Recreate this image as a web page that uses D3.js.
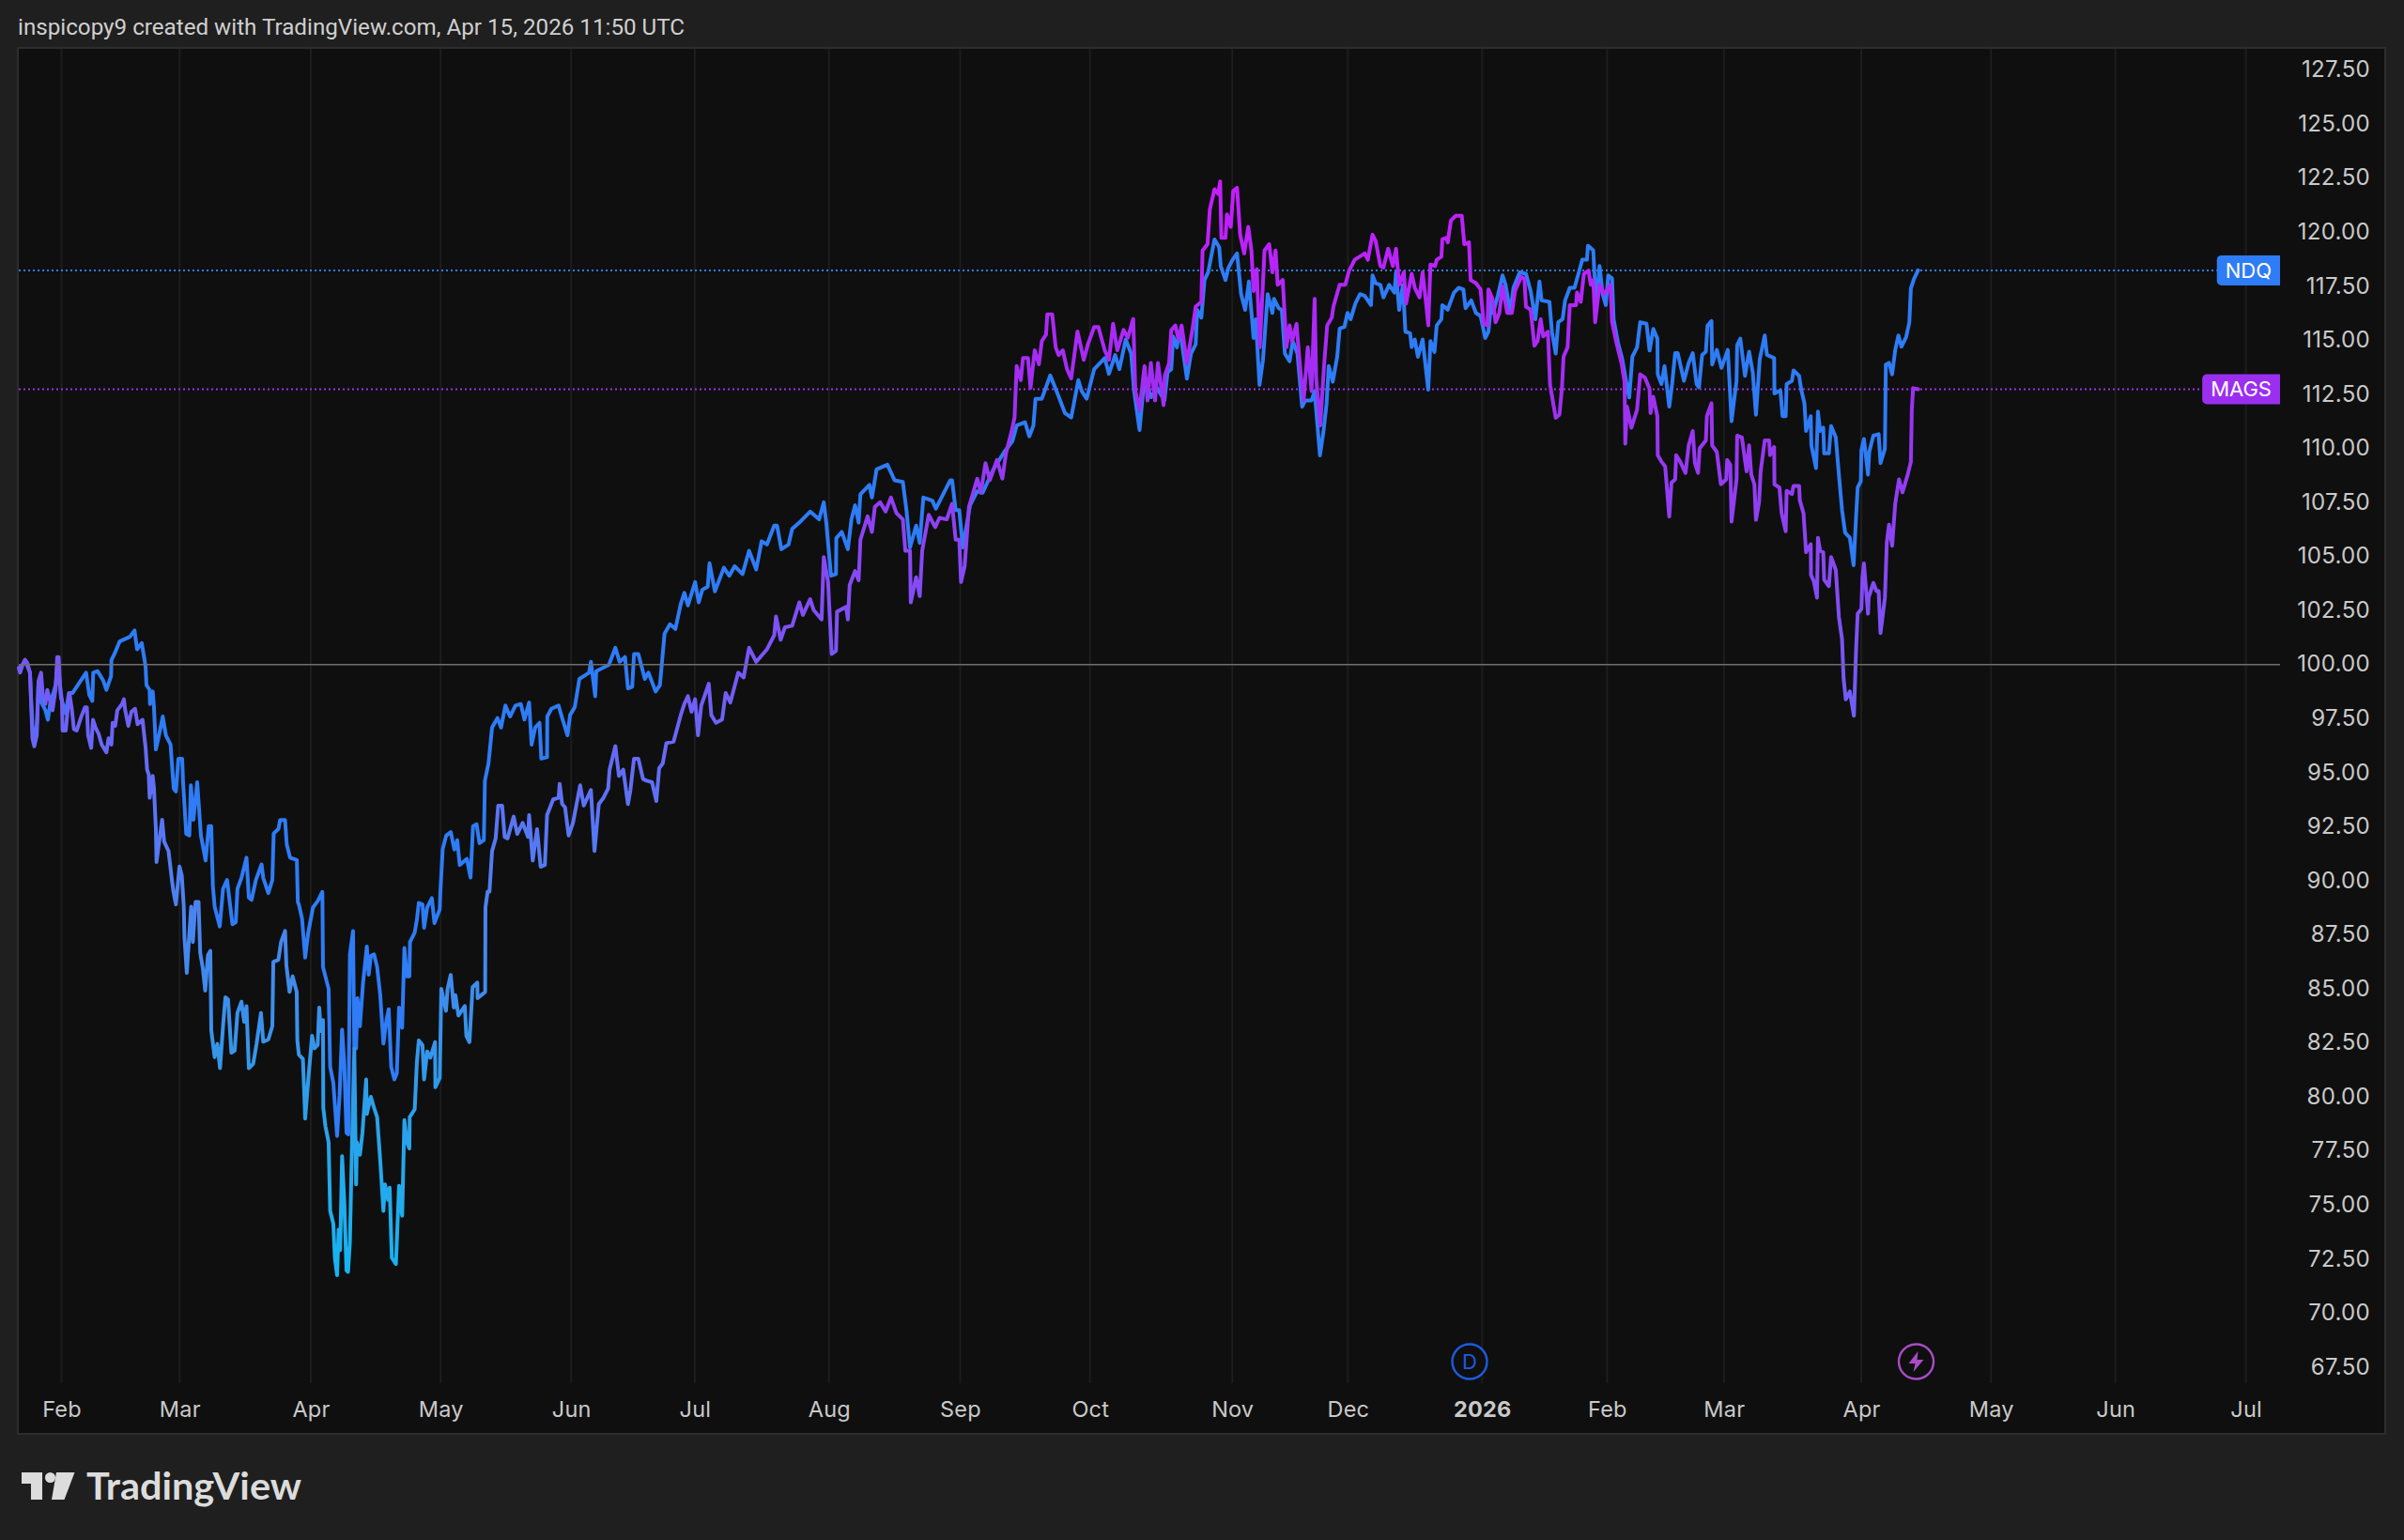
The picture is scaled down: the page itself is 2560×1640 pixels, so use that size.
<!DOCTYPE html>
<html>
<head>
<meta charset="utf-8">
<title>NDQ vs MAGS</title>
<script src="https://cdn.jsdelivr.net/npm/d3@7/dist/d3.min.js"></script>
<style>
  html, body { margin: 0; padding: 0; background: #1f1f1f; }
  svg { display: block; }
  .axis text { font-family: Inter, "Noto Sans", sans-serif; font-size: 23.5px; letter-spacing: 0.2px; fill: #c9c9c9; }
  .axis.price text { font-size: 24px; letter-spacing: 0.3px; }
  .axis path, .axis line { display: none; }
</style>
</head>
<body>
<svg id="chart" width="2560" height="1640"></svg>
<script>
// Axis contents. Sessions are trading days counted from 3 Feb 2025, so weekends take no room.
const monthTickSessions = [0, 19.1, 40.3, 61.3, 82.4, 102.4, 124.1, 145.3, 166.3, 189.3, 208, 229.7, 249.9, 268.8, 291, 312, 332.1, 353.2];
const monthTickLabels = ["Feb", "Mar", "Apr", "May", "Jun", "Jul", "Aug", "Sep", "Oct", "Nov", "Dec", "2026", "Feb", "Mar", "Apr", "May", "Jun", "Jul"];
const priceTicks = d3.range(67.5, 127.6, 2.5);
const baselineValue = 100;

// NDQ, rebased to 100
const ndqSessions = [-6.9,-6.3,-5.9,-5.1,-4.9,-4.63,-4.38,-3.97,-3.72,-3.37,-2.61,-2.2,-1.85,-0.94,-0.58,-0.08,0.68,1.19,1.8,2.96,3.97,4.48,4.98,5.13,5.84,6.75,7.26,8.02,8.07,8.78,9.39,11.06,11.81,12.22,12.98,13.59,13.74,14.25,14.3,14.75,14.95,15.26,15.76,16.37,16.88,17.63,18.14,18.5,18.9,19.51,19.66,20.17,20.67,20.92,21.33,21.94,22.19,22.54,23.3,23.81,24.21,24.47,
24.76,25.58,26.12,26.77,27.64,28.18,28.45,29.1,29.91,30.29,30.73,31.43,32.35,32.62,33.44,34.09,34.31,35.07,35.34,36.15,36.42,36.96,38.05,38.21,38.38,38.89,39.4,39.9,40.66,41.42,42.18,42.28,43.19,43.44,43.95,44.56,44.96,45.37,45.72,46.08,46.38,46.63,47.14,47.34,47.64,47.85,48.25,48.76,49.37,49.67,50.02,50.53,51.03,51.54,52.05,52.55,52.91,53.31,53.82,54.22,54.58,55.08,55.44,55.84,56.25,56.35,57.11,57.46,57.77,58.37,58.63,59.13,59.89,60.3,61.16,61.26,61.64,62.2,
62.94,63.52,63.99,64.39,65.55,66.14,66.54,67.12,67.59,68.29,68.46,69.04,69.62,70.49,71.07,71.77,72.53,73.4,74.27,74.85,75.61,76.01,76.59,77.29,77.58,78.51,78.55,79.21,80.37,80.95,81.82,82.23,82.99,83.74,85.31,85.6,86.3,86.47,88.51,89.55,90.25,91.12,91.59,92.28,92.57,93.27,94.32,94.9,96.06,96.76,97.51,98.38,99.26,100.13,100.71,101.29,102.45,103.03,103.61,104.49,104.78,105.65,107.1,107.97,108.84,110.12,111.17,112.33,113.2,114.07,115.24,115.7,116.4,117.56,118.14,119.59,121.05,122.5,123.25,123.66,124.42,125.23,125.28,126.16,127.15,127.73,128.31,128.89,129.18,130.63,131.04,131.79,133.54,134.7,136.04,136.62,137.2,138.19,138.77,139.35,140.8,141.38,143.71,144,144.58,145.16,145.74,146.9,148.07,148.94,150.68,152.42,
153.76,154.44,155.8,156.48,157.15,157.49,158.51,159.87,160.88,162.24,163.26,164.41,164.95,165.76,166.98,168.68,169.36,170.37,171.05,172.07,172.95,173.43,174.31,175.12,176.14,177.15,178.33,178.84,179.44,179.75,180.35,180.61,181.11,181.97,182.63,183.39,183.64,184.3,184.81,185.41,186.43,187.19,187.44,188.2,188.7,189.36,190.07,190.73,191.39,191.99,192.75,193.11,193.71,194.27,195.03,195.79,196.04,196.8,197.31,197.81,198.57,199.08,199.84,200.6,201.1,202.12,202.62,203.48,204.04,204.55,204.9,205.56,206.27,206.67,207.43,207.94,208.44,209.2,209.96,210.72,211.73,211.98,212.49,213.25,213.75,214.67,215.53,215.78,216.29,216.9,217.3,218.06,218.31,218.82,219.32,220.08,220.99,221.35,222,222.36,223.12,223.27,223.88,
224.14,225.15,225.91,226.67,227.03,227.94,228.7,229.45,230.21,230.72,231.23,231.48,232.24,233,233.5,234.26,234.77,235.78,236.79,237.55,238.31,238.97,239.32,240.59,240.99,241.6,242.01,242.71,243.12,243.88,244.64,245.14,245.9,246.66,246.81,247.67,247.93,248.28,248.69,249.19,249.7,250.1,250.71,250.96,251.72,252.33,252.99,253.49,254,254.76,255.26,256.28,256.78,
257.38,258.04,258.1,258.7,259.2,259.96,260.42,260.92,261.33,262.34,263.1,263.76,264.37,264.77,265.28,265.88,266.14,266.79,266.9,267.65,268.41,269.43,270.03,270.84,270.94,271.45,272.21,272.87,273.47,273.98,274.59,275.4,275.75,276.92,276.97,277.93,278.28,278.79,278.94,279.8,280.05,280.96,281.32,281.82,282.08,282.84,282.94,283.7,284,284.35,284.86,285.01,285.77,286.13,286.89,287.39,287.9,288.4,289.16,289.77,290.17,290.43,290.94,291.03,291.44,292.1,292.3,292.96,293.82,294.12,294.83,294.98,295.49,296,296.5,297.01,297.51,298.27,298.78,299.03,299.54,300.2];
const ndqValues = [99.84,99.99,100.2,99.63,98.32,96.73,96.37,97.31,99.19,98.32,97.89,97.45,98.18,99.05,100.2,98.47,97.74,98.69,98.69,99.19,99.63,98.61,98.32,99.63,99.7,99.26,98.83,99.48,100.2,100.64,101.07,101.29,101.58,100.71,101,99.92,99.05,98.83,98.18,98.76,98.03,96.08,96.73,97.6,96.73,96.3,94.27,94.13,95.65,95.65,94.56,92.17,92.1,94.42,92.82,94.56,93.55,92.1,90.94,92.53,92.53,89.79,
88.81,87.89,89.63,90.04,87.99,88.09,89.63,90.14,91.07,89.22,89.12,90.04,90.76,90.14,89.43,90.04,92.19,92.4,92.81,92.81,91.68,91.07,90.96,89.02,88.91,88.26,86.45,87.61,88.77,89.06,89.49,86.02,85,81.39,80.66,78.2,80.08,83.12,81.53,78.35,78.27,86.6,87.68,82.25,82.25,84.57,83.27,85.29,86.96,85.66,86.52,86.6,86.02,84.71,82.47,83.56,84.06,81.39,80.81,81.1,84.14,83.2,86.89,85.58,85.58,87.17,87.61,88.19,88.98,88.91,87.83,88.77,89.2,88.04,88.69,89.49,91.48,92.09,
92.25,91.45,91.88,90.73,91.02,90.15,92.53,92.61,91.74,91.88,94.63,95.43,97.09,97.53,97.09,98.11,97.6,98.11,98.18,97.46,98.25,96.3,97.09,97.31,95.65,95.72,97.6,97.96,98.11,97.53,96.73,97.67,98.03,99.34,99.63,100.13,98.54,99.7,99.99,100.78,100.13,100.35,98.9,98.98,100.49,100.49,99.34,99.63,98.76,99.05,101.44,101.87,101.65,102.81,103.32,102.74,103.82,102.88,103.46,103.61,104.69,103.39,104.48,104.11,104.55,104.19,105.27,104.4,105.71,105.56,106.43,106.43,105.34,105.56,106.28,106.65,107.08,106.72,107.51,106.57,104.11,104.19,105.85,106.14,105.34,106.72,107.37,106.57,107.88,108.31,107.73,109.03,109.25,108.53,108.45,107.15,105.42,106.43,105.63,107.73,107.59,107.22,108.53,108.53,107.15,107.15,105.42,107.37,108.02,107.95,109.03,109.83,
110.34,111.06,111.21,110.56,111.06,112.3,112.3,113.38,112.66,111.64,111.43,113.16,112.66,112.3,113.67,114.18,113.45,114.32,113.67,115.04,114.39,112.66,110.85,113.38,112.37,112.8,112.22,113.52,113.66,115.18,114.68,115.18,114.97,113.23,114.39,114.82,116.41,116.05,117.79,118.15,119.67,119.31,118.44,117.79,118.37,118.73,119.02,117.14,116.41,117.72,115.11,115.98,112.94,114.1,117.14,116.27,116.92,116.49,116.41,114.39,114.03,114.97,114.39,111.93,112.22,112.22,112.65,109.68,110.77,112.07,113.81,113.09,114.24,115.55,115.62,116.27,115.98,116.7,117.14,117.06,116.63,118.01,117.64,117.57,116.99,117.57,117.21,118.15,116.41,117.57,115.4,115.33,114.68,115.04,114.24,115.04,112.72,114.97,114.46,115.69,115.98,116.63,116.49,
116.42,117.21,117.43,117.36,116.49,116.85,116.27,116.13,115.11,115.4,116.92,116.27,117.07,118.01,117.57,116.27,117.43,118.15,118.08,117.28,115.98,117.72,116.85,116.78,115.4,114.39,115.84,115.98,116.85,117.43,117.43,117.94,118.73,118.73,119.38,119.17,117.72,117,118.44,117.14,116.63,118.01,117.86,115.98,114.82,114.17,113.09,112.36,114.25,114.68,115.84,115.77,114.53,
115.53,115.08,113.43,112.98,113.81,111.94,112.98,114.41,114.41,113.13,113.96,114.41,112.98,112.83,114.33,114.48,115.68,115.9,113.88,114.56,113.73,114.56,111.26,113.13,114.78,115.08,113.36,114.48,113.51,111.56,114.11,115.23,114.33,114.18,112.54,112.69,111.49,111.49,112.98,113.13,113.61,113.36,112.69,112.09,110.81,111.49,110.14,109.09,111.71,110.81,110.96,109.77,109.77,111.04,110.51,108.79,107.15,106.1,105.87,104.6,106.85,108.19,108.49,109.92,110.44,108.79,109.84,110.59,110.66,109.32,109.99,113.88,113.96,113.43,114.56,115.23,114.71,115.16,115.83,117.4,117.85,118.24];

// MAGS, rebased to 100
const magsSessions = [-6.9,-6.7,-6.3,-5.9,-5.5,-5.1,-4.9,-4.7,-4.4,-4,-3.7,-3.3,-3,-2.6,-2.3,-1.85,-1.45,-0.95,-0.7,-0.45,-0.25,0.07,0.17,0.68,1.09,1.29,1.69,2,2.45,3.2,3.8,4.1,4.3,4.8,5.1,5.5,6,6.5,7.26,7.6,8.07,8.27,8.68,9.03,9.79,10.09,10.3,10.8,11.3,11.9,12.3,13.1,13.6,13.84,14.1,14.25,14.75,14.95,15.26,15.36,15.76,16.27,16.6,17.3,17.9,18.1,
18.5,18.8,19.07,19.45,19.77,19.88,20.26,20.53,20.97,21.24,21.67,22.16,22.43,22.86,23.24,23.68,24.06,24.22,24.76,25.2,25.63,26.12,26.5,26.93,27.47,28,28.45,29.1,29.53,29.91,30.29,31,31.54,32.25,32.62,33.44,34.09,34.25,35.07,35.5,36.15,
36.36,36.87,37.37,38.03,38.13,38.38,39.04,39.4,39.9,40.51,40.91,41.42,41.67,41.93,42.28,42.33,42.68,43.19,43.44,43.95,44.2,44.56,44.81,45.06,45.37,45.72,46.08,46.33,46.63,46.99,47.34,47.64,47.75,48.25,48.66,49.26,49.37,50.02,50.53,51.03,51.54,52.05,52.3,52.81,53.06,53.41,54.07,54.58,55.08,55.44,55.84,56.25,56.3,57.11,57.46,57.77,58.37,58.63,59.13,59.64,60.4,60.45,61.16,61.41,62.17,62.42,62.93,63.43,63.69,64.19,65.21,65.46,65.96,66.47,67.23,67.28,68.5,68.55,68.9,69.2,
69.62,70.2,70.61,71.25,71.66,72.12,73.11,73.69,74.56,75.43,75.61,76.19,76.89,77.47,78.16,78.51,79.5,80.37,80.55,80.95,81.42,82,82.7,83.86,84.44,85.6,86.18,86.88,87.63,88.39,88.62,89.55,90.13,90.83,91.59,91.99,92.57,93.27,94.03,94.61,95.48,96.18,96.64,97.22,97.8,98.97,100.13,100.71,101.29,101.87,102.45,102.92,103.44,104.66,105.07,105.82,106.81,107.39,108.15,109.42,110.3,111.17,112.33,114.07,115.24,115.53,116.28,116.98,118.14,119.3,119.88,121.05,121.63,122.9,123.25,123.95,124.53,125.23,125.4,126.86,127.15,127.44,128.31,128.89,129.18,130.34,131.04,131.51,132.38,133.25,134.12,135,136.04,136.44,137.2,137.32,138.19,138.77,139.17,140.22,141.27,141.96,143.13,144,144.58,145.16,145.45,146.03,146.73,148.07,148.65,149.4,150.1,151.26,152.13,152.71,153.6,
154.1,154.44,155.12,155.46,156.27,156.68,157.36,158.04,158.51,159.19,159.39,160.2,160.75,161.22,161.9,162.58,163.26,164.27,165.29,165.97,166.98,167.66,168.68,169.36,170.04,170.71,171.73,172.41,173.29,173.63,174.31,175.12,175.6,176.14,176.82,177.29,178.2,
178.4,179.09,179.44,180.1,180.61,181.11,181.47,181.97,182.88,183.39,184.3,184.5,185.31,185.67,186.43,187.03,187.34,187.54,188.2,188.45,189.06,189.46,190.07,190.58,191.23,191.89,192.4,192.75,193.26,193.76,194.52,195.28,195.79,196.3,196.65,197.46,198.07,198.57,198.98,199.69,200.34,200.85,201.51,202.12,202.62,202.87,203.53,204.14,204.65,205.4,205.66,206.67,207.58,208.19,209.1,210.72,211.22,211.98,212.49,213.25,213.75,214.51,215.27,215.78,216.29,217.05,217.4,218.31,218.82,219.58,220.08,220.59,221,221.35,222.1,222.36,223.12,223.27,223.88,
224.14,224.65,225.41,226.42,226.82,227.58,227.84,228.7,229.45,229.96,230.57,230.72,231.38,231.88,232.49,233,233.76,234.52,235.02,236.03,236.54,236.79,237.55,238.16,238.67,239.17,239.58,240.34,240.69,241.6,242.21,242.61,242.87,243.52,243.88,244.89,245.04,245.65,246.16,246.91,247.27,247.67,247.98,248.69,249.45,250.46,250.71,251.47,252.23,252.73,252.85,
253.13,253.84,254.75,255.26,256.02,256.77,256.93,257.38,258.04,258.1,258.7,259.3,259.96,260.32,260.92,261.08,261.73,262.59,263.1,263.76,264.11,264.62,264.87,265.88,266.04,266.79,266.9,267.65,268.31,269.17,269.33,269.83,270.03,270.84,270.94,271.7,272.46,272.87,273.22,273.73,273.98,274.49,274.74,275.4,276.11,276.26,276.92,276.97,277.78,278.13,278.79,278.94,279.8,280.05,280.96,281.07,281.67,282.08,282.84,282.88,283.34,283.85,284,284.35,284.86,285.01,285.77,286.13,286.89,287.39,287.9,288.15,288.5,289.16,289.82,290.17,290.43,291.03,291.19,291.44,292.1,292.2,292.96,293.47,293.82,294.12,294.83,295.14,295.49,296,296.5,297.11,297.67,298.52,299.03,299.18,299.39,300.2];
const magsValues = [99.84,99.63,99.99,100.23,100.06,99.63,98.18,96.59,96.22,96.73,99.26,99.63,98.47,98.18,98.83,98.32,97.89,98.9,100.35,100.35,99.05,98.32,96.95,96.95,98.18,98.69,97.89,97.02,96.95,97.6,98.03,98.03,96.73,96.15,97.45,97.09,96.8,96.3,95.94,96.59,96.3,97.31,97.17,97.89,98.18,98.4,97.89,97.17,97.82,97.96,97.24,97.45,96.15,95.14,94.92,93.84,94.85,94.27,92.39,90.87,91.74,92.82,91.81,91.38,89.93,89.5,
88.91,89.83,90.66,90.25,88.81,87.38,85.74,86.97,88.81,87.17,89.02,89.02,86.66,85.94,84.92,86.56,86.76,83.07,81.84,82.46,81.33,83.28,84.61,84.51,82.05,82.15,83.89,84.41,83.48,84.2,81.33,81.54,82.46,83.89,82.56,82.66,83.28,86.25,86.35,87.17,87.68,
86.09,84.86,85.58,84.86,82.62,81.96,81.75,79,80.81,82.83,82.25,82.4,84.14,83.05,83.56,79.5,78.64,77.91,74.73,74.15,72.56,71.76,73.86,72.92,77.26,75.16,71.98,71.91,73.28,78.06,82.25,75.96,77.91,77.33,78.35,80.81,79.22,80.01,79.5,79.07,77.05,74.73,75.96,75.24,75.81,72.56,72.27,75.89,74.51,78.93,77.91,77.62,79.07,79.43,81.6,82.62,82.4,80.81,82.11,81.82,82.54,80.45,80.88,85,83.99,85,85.65,84.14,84.71,83.77,84.21,82.83,82.54,85.08,85.29,84.57,84.86,88.77,89.5,89.5,
91.38,91.96,93.48,93.48,92.03,91.96,92.97,92.17,92.68,92.03,93.04,90.94,92.39,90.65,90.73,93.04,93.77,93.84,94.49,93.55,93.4,92.1,92.68,94.42,93.48,94.2,91.38,93.55,93.84,94.27,95.14,96.23,94.85,95.14,93.55,94.2,95.65,95.65,94.71,94.63,94.56,93.69,95.21,95.43,96.37,96.44,97.67,98.18,98.54,97.82,98.4,96.73,98.11,99.12,97.67,97.31,97.46,98.69,98.25,99.63,99.41,100.78,100.13,100.71,101.36,102.23,101.15,101.73,101.8,102.88,102.3,103.03,102.52,102.09,104.98,103.82,100.49,100.64,102.45,102.67,102.09,103.68,104.33,103.9,105.78,106.86,106.14,107.3,107.51,107.08,107.73,107.01,106.72,105.27,105.27,102.88,104.04,103.17,105.27,106.93,106.36,106.79,106.72,107.44,105.78,105.78,103.82,104.55,107.3,108.6,107.95,109.32,108.53,109.47,108.6,109.76,110.77,
111.43,113.81,113.16,114.18,114.18,112.8,114.54,113.89,114.97,115.26,116.2,116.2,114.68,114.32,114.54,113.67,113.24,115.41,114.1,114.83,115.62,115.62,114.54,114.1,115.77,114.54,115.48,115.12,115.99,112.66,111.79,113.81,112.22,113.96,112.22,113.96,112,
113.37,113.95,115.47,115.69,115.04,115.69,114.97,113.95,115.55,116.56,116.78,119.16,119.45,121.04,121.99,121.77,122.35,119.74,119.74,120.83,120.25,121.91,122.06,119.89,119.02,120.25,119.16,117.28,118.29,114.68,119.16,119.45,118.15,119.16,117.57,117.79,114.68,115.69,114.97,115.76,113.52,112.22,114.68,112.65,116.92,113.23,111.06,113.81,115.69,116.05,116.56,117.57,117.57,118.22,118.73,119.02,118.73,119.89,119.6,118.44,118.37,119.24,118.44,119.24,117.57,118.15,116.7,118.08,117.43,116.99,118.15,116.85,115.69,118.51,118.44,118.73,118.87,119.67,119.74,
119.53,120.54,120.76,120.76,119.45,119.53,117.79,117.65,117.36,115.77,115.69,117.36,116.92,115.84,116.27,117.5,116.27,116.27,117.28,117.94,117.86,116.56,116.42,114.75,114.97,115.98,115.18,115.4,112.94,111.42,111.57,112.8,114.25,114.68,116.63,116.63,117.21,116.78,118.08,118.23,117.57,117.79,115.84,117.57,117.14,117.57,115.84,114.82,113.96,113.09,110.22,
111.94,110.96,111.79,113.43,113.28,112.76,111.64,112.39,111.49,109.69,109.39,109.17,106.85,108.42,108.57,109.69,109.39,108.87,110.14,110.81,109.32,108.87,110,110.37,111.49,112.09,110.14,109.84,108.34,108.57,109.47,109.24,106.62,108.57,110.59,110.51,108.94,110.14,108.79,108.34,106.7,107.52,108.94,110.37,110.37,109.69,110.07,108.34,108.19,107,106.17,108.04,107.89,108.27,108.27,107.6,107,105.2,105.57,104.15,103.85,103.1,105.87,105.27,105.2,103.93,103.63,104.98,104.38,102.21,101.16,99.36,98.39,98.76,97.64,100.71,102.36,102.58,104,104.68,102.36,103.1,103.78,103.4,103.4,101.46,103.1,105.65,106.47,105.5,107.45,108.57,107.97,108.79,109.39,111.79,112.79,112.74];

// Colours of the MAGS line by price level, purple at the highs down to cyan at the lows
const magsGradientLevels = [122.4, 118, 112.7, 105, 100, 95, 90, 85, 80, 75, 71.8];
const magsGradientColors = ["#c71cff", "#b625fa", "#a02ef2", "#8a46f5", "#7757f6", "#626df6", "#4f7ff2", "#3f8cec", "#2e9dea", "#1fadee", "#15b3f1"];

const ndqColor = "#2e7cf6";
const magsLabelColor = "#9b2ff0";

const frame = { left: 19, top: 51, right: 2540, bottom: 1527 };
const plotRight = 2428;

const x = d3.scaleLinear().domain([0, 291]).range([65.5, 1982]);
const y = d3.scaleLinear().domain([67.5, 127.5]).range([1456, 74.7]);

const svg = d3.select("#chart");
const zip = (sessions, values) => sessions.map((s, i) => [s, values[i]]);
const line = d3.line().x(d => x(d[0])).y(d => y(d[1]));

svg.append("rect").attr("width", 2560).attr("height", 1640).attr("fill", "#1f1f1f");
svg.append("rect")
  .attr("x", frame.left).attr("y", frame.top)
  .attr("width", frame.right - frame.left).attr("height", frame.bottom - frame.top)
  .attr("fill", "#0f0f0f").attr("stroke", "#2d2d2d").attr("stroke-width", 2);

// Monthly gridlines
svg.append("g").selectAll("line").data(monthTickSessions).join("line")
  .attr("x1", d => x(d)).attr("x2", d => x(d))
  .attr("y1", frame.top + 1).attr("y2", 1473)
  .attr("stroke", "#1d1d1d").attr("stroke-width", 2);

// Last-value guides
const series = [
  { name: "NDQ", last: ndqValues[ndqValues.length - 1], color: ndqColor },
  { name: "MAGS", last: magsValues[magsValues.length - 1], color: magsLabelColor }
];

const defs = svg.append("defs");
const grad = defs.append("linearGradient").attr("id", "magsGradient")
  .attr("gradientUnits", "userSpaceOnUse")
  .attr("x1", 0).attr("x2", 0)
  .attr("y1", y(magsGradientLevels[0]))
  .attr("y2", y(magsGradientLevels[magsGradientLevels.length - 1]));
magsGradientLevels.forEach((lv, i) => {
  grad.append("stop")
    .attr("offset", (lv - magsGradientLevels[0]) / (magsGradientLevels[magsGradientLevels.length - 1] - magsGradientLevels[0]))
    .attr("stop-color", magsGradientColors[i]);
});

const guides = svg.append("g");

// Price lines, NDQ beneath MAGS
svg.append("path").attr("d", line(zip(ndqSessions, ndqValues)))
  .attr("fill", "none").attr("stroke", ndqColor).attr("stroke-width", 4)
  .attr("stroke-linejoin", "round").attr("stroke-linecap", "round");
svg.append("path").attr("d", line(zip(magsSessions, magsValues)))
  .attr("fill", "none").attr("stroke", "url(#magsGradient)").attr("stroke-width", 4)
  .attr("stroke-linejoin", "round").attr("stroke-linecap", "round");

// Rebasing line at 100
svg.append("line")
  .attr("x1", frame.left + 1).attr("x2", plotRight)
  .attr("y1", y(baselineValue)).attr("y2", y(baselineValue))
  .attr("stroke", "#6e6e6e").attr("stroke-width", 1.6);

// Axes
const yAxis = d3.axisRight(y).tickValues(priceTicks).tickFormat(d3.format(".2f")).tickSize(0);
const yG = svg.append("g").attr("class", "axis price").attr("transform", "translate(2524,-1.5)").call(yAxis);
yG.selectAll("text").attr("x", 0).attr("dy", "0.36em").attr("text-anchor", "end");

const xAxis = d3.axisBottom(x).tickValues(monthTickSessions)
  .tickFormat((d, i) => monthTickLabels[i]).tickSize(0);
const xG = svg.append("g").attr("class", "axis").attr("transform", "translate(0,1492.5)").call(xAxis);
xG.selectAll("text").attr("y", 0).attr("dy", "0.71em")
  .style("font-weight", (d, i) => monthTickLabels[i] === "2026" ? 700 : 400);

// Series name tags at the last value
series.forEach(s => {
  const py = y(s.last);
  const tag = svg.append("g");
  const text = tag.append("text")
    .attr("x", plotRight - 9).attr("y", py).attr("dy", "0.36em")
    .attr("text-anchor", "end").attr("fill", "#ffffff")
    .style("font-family", 'Inter, "Noto Sans", sans-serif').style("font-size", "22px")
    .text(s.name);
  const w = text.node().getComputedTextLength() + 18;
  const left = plotRight - w;
  tag.insert("path", "text")
    .attr("d", `M${plotRight},${py - 16}H${left + 5}a5,5 0 0 0 -5,5V${py + 11}a5,5 0 0 0 5,5H${plotRight}Z`)
    .attr("fill", s.color);
  guides.append("line")
    .attr("x1", frame.left + 1).attr("x2", left)
    .attr("y1", py).attr("y2", py)
    .attr("stroke", s.color).attr("stroke-width", 2)
    .attr("stroke-dasharray", "2 3");
});

// Event markers on the time axis: dividend and earnings flash
const dividend = svg.append("g").attr("transform", "translate(1565,1450)");
dividend.append("circle").attr("r", 18.5).attr("fill", "#0f0f0f").attr("stroke", "#1b5ce0").attr("stroke-width", 2.4);
dividend.append("text").attr("text-anchor", "middle").attr("dy", "0.36em")
  .attr("fill", "#1b5ce0").style("font-family", "Inter, sans-serif").style("font-size", "22px").text("D");
const flash = svg.append("g").attr("transform", "translate(2040.5,1450)");
flash.append("circle").attr("r", 18.5).attr("fill", "#0f0f0f").attr("stroke", "#a84cc6").attr("stroke-width", 2.4);
flash.append("path").attr("d", "M2,-11L-8,2H-1L-3,11L8,-2H1Z").attr("fill", "#a84cc6");

// Header credit
svg.append("text").attr("x", 19).attr("y", 37).attr("fill", "#cfcfcf")
  .style("font-family", 'Roboto, sans-serif').style("font-size", "24.2px")
  .text("inspicopy9 created with TradingView.com, Apr 15, 2026 11:50 UTC");

// Wordmark in the footer
const logo = svg.append("g").attr("fill", "#dcdcdc");
logo.append("path").attr("d", "M23,1568H45V1597H33V1580H23Z");
logo.append("circle").attr("cx", 53.5).attr("cy", 1573.5).attr("r", 5.5);
logo.append("path").attr("d", "M60,1568H79.5L68.5,1597H55Z");
logo.append("text").attr("x", 92).attr("y", 1597)
  .style("font-family", 'Lato, sans-serif').style("font-weight", 700).style("font-size", "40px")
  .attr("textLength", 229).attr("lengthAdjust", "spacingAndGlyphs")
  .text("TradingView");
</script>
</body>
</html>
